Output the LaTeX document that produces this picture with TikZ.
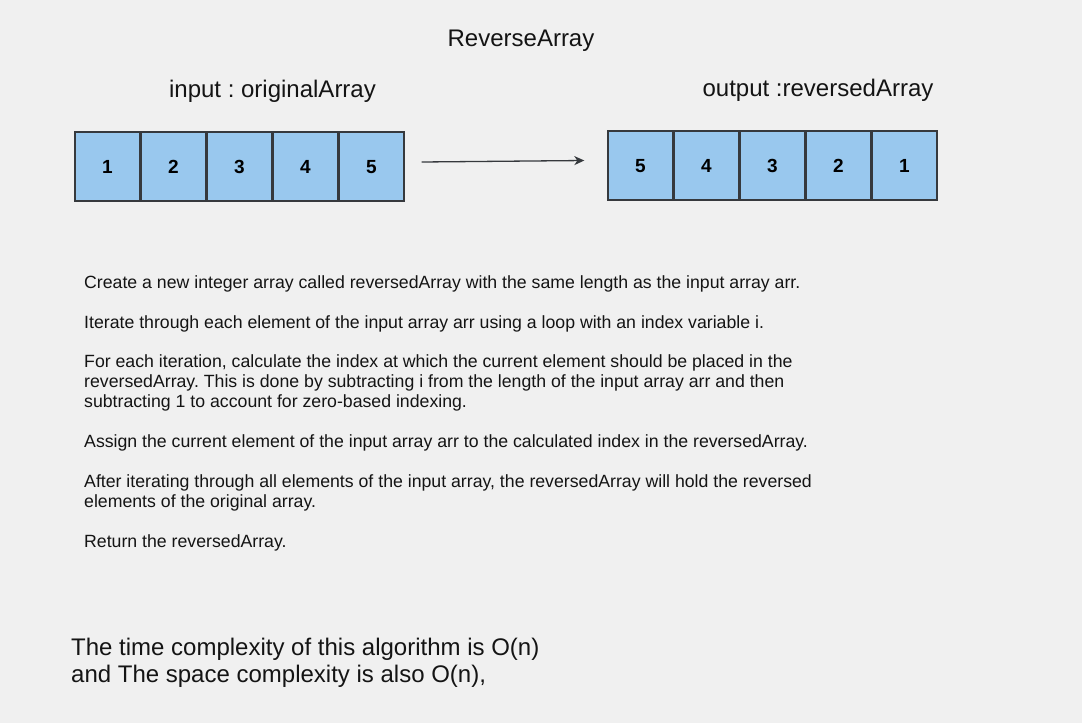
\documentclass[tikz,border=0pt]{standalone}
\usepackage{fontspec}
\setmainfont{Liberation Sans}
\usetikzlibrary{arrows.meta}
\definecolor{bg}{RGB}{240,240,240}
\definecolor{cellfill}{RGB}{153,200,238}
\definecolor{cellline}{RGB}{54,57,61}
\definecolor{txt}{RGB}{20,20,20}
\frenchspacing
\begin{document}
\begin{tikzpicture}[x=1pt,y=-1pt,
  cell/.style={draw=cellline,line width=1.4pt,fill=cellfill,minimum width=65pt,minimum height=69pt,inner sep=0pt,text height=13.6pt,text depth=0pt,font=\fontsize{19}{21}\selectfont\bfseries,text=black},
  big/.style={font=\fontsize{24}{27}\selectfont,text=txt,inner sep=0pt},
  body/.style={font=\fontsize{17.7}{20}\selectfont,text=txt,inner sep=0pt,anchor=base west,align=left},
  arr/.style={draw=cellline,line width=1.3pt,-{Stealth[length=10pt,width=9pt,inset=3pt]}}]
\useasboundingbox[fill=bg] (0,0) rectangle (1082,723);
\node[big,anchor=base] (title) at (521,46) {ReverseArray};
\node[big,anchor=base] (inlabel) at (272.5,97) {input : originalArray};
\node[big,anchor=base] (outlabel) at (818,96) {output :reversedArray};
% input cells
\node[cell] (in1) at (107.5,166.5) {1};
\node[cell] (in2) at (173.5,166.5) {2};
\node[cell] (in3) at (239.5,166.5) {3};
\node[cell] (in4) at (305.5,166.5) {4};
\node[cell] (in5) at (371.5,166.5) {5};
% output cells
\node[cell] (out5) at (640.5,165.5) {5};
\node[cell] (out4) at (706.5,165.5) {4};
\node[cell] (out3) at (772.5,165.5) {3};
\node[cell] (out2) at (838.5,165.5) {2};
\node[cell] (out1) at (904.5,165.5) {1};
\draw[arr] ([xshift=17pt,yshift=4.5pt]in5.east) -- ([xshift=-23pt,yshift=5pt]out5.west);
% description (base = baseline of last line)
\node[body] (p1) at (84,288) {Create a new integer array called reversedArray with the same length as the input array arr.};
\node[body] (p2) at (84,328) {Iterate through each element of the input array arr using a loop with an index variable i.};
\node[body] (p3) at (84,407) {For each iteration, calculate the index at which the current element should be placed in the\\reversedArray. This is done by subtracting i from the length of the input array arr and then\\subtracting 1 to account for zero-based indexing.};
\node[body] (p4) at (84,447) {Assign the current element of the input array arr to the calculated index in the reversedArray.};
\node[body] (p5) at (84,507) {After iterating through all elements of the input array, the reversedArray will hold the reversed\\elements of the original array.};
\node[body] (p6) at (84,547) {Return the reversedArray.};
\node[big,anchor=base west,align=left] (cx) at (71,682) {The time complexity of this algorithm is O(n)\\and The space complexity is also O(n),};
\end{tikzpicture}
\end{document}
